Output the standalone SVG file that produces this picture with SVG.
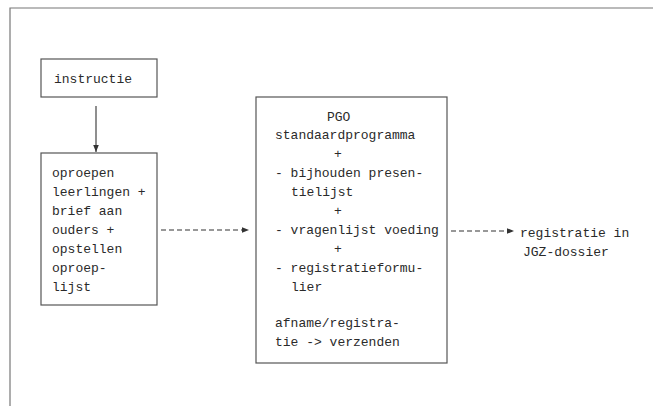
<svg xmlns="http://www.w3.org/2000/svg" width="653" height="406" viewBox="0 0 653 406">
<defs>
<marker id="ah" viewBox="0 0 10 10" refX="10" refY="5" markerWidth="9" markerHeight="7" markerUnits="userSpaceOnUse" orient="auto">
<path d="M0,1 L10,5 L0,9 Z" fill="#333"/>
</marker>
<style>
.box{fill:#fff;stroke:#555;stroke-width:1.2}
.t{font-family:"Liberation Mono","DejaVu Sans Mono",monospace;font-size:13px;fill:#2a2a2a}
.c{stroke:#333;stroke-width:1.1;fill:none}
.d{stroke-dasharray:5 3}
.frame{stroke:#777;stroke-width:1.2;fill:none}
</style>
</defs>
<rect width="653" height="406" fill="#fff"/>
<path class="frame" d="M10,406 L10,8 L653,8"/>
<g id="instructie">
<rect class="box" x="41" y="59" width="116" height="38"/>
<text class="t" x="54" y="83">instructie</text>
</g>
<g id="oproepen">
<rect class="box" x="41" y="153" width="116" height="152"/>
<text class="t" x="52"><tspan x="52" y="177">oproepen</tspan><tspan x="52" y="196">leerlingen +</tspan><tspan x="52" y="215">brief aan</tspan><tspan x="52" y="234">ouders +</tspan><tspan x="52" y="253">opstellen</tspan><tspan x="52" y="272">oproep-</tspan><tspan x="52" y="291">lijst</tspan></text>
</g>
<g id="pgo">
<rect class="box" x="256" y="97" width="191" height="266"/>
<text class="t"><tspan x="327" y="121">PGO</tspan><tspan x="275" y="139">standaardprogramma</tspan><tspan x="334" y="158">+</tspan><tspan x="275" y="177">- bijhouden presen-</tspan><tspan x="291" y="196">tielijst</tspan><tspan x="334" y="215">+</tspan><tspan x="275" y="234">- vragenlijst voeding</tspan><tspan x="334" y="253">+</tspan><tspan x="275" y="272">- registratieformu-</tspan><tspan x="291" y="291">lier</tspan><tspan x="275" y="327">afname/registra-</tspan><tspan x="275" y="346">tie -&gt; verzenden</tspan></text>
</g>
<g id="registratie">
<text class="t"><tspan x="520" y="237">registratie in</tspan><tspan x="523" y="256">JGZ-dossier</tspan></text>
</g>
<g id="connectors">
<line class="c" x1="96" y1="106" x2="96" y2="152" marker-end="url(#ah)"/>
<line class="c d" x1="161" y1="230" x2="249" y2="230" marker-end="url(#ah)"/>
<line class="c d" x1="451" y1="231" x2="514" y2="231" marker-end="url(#ah)"/>
</g>
</svg>
